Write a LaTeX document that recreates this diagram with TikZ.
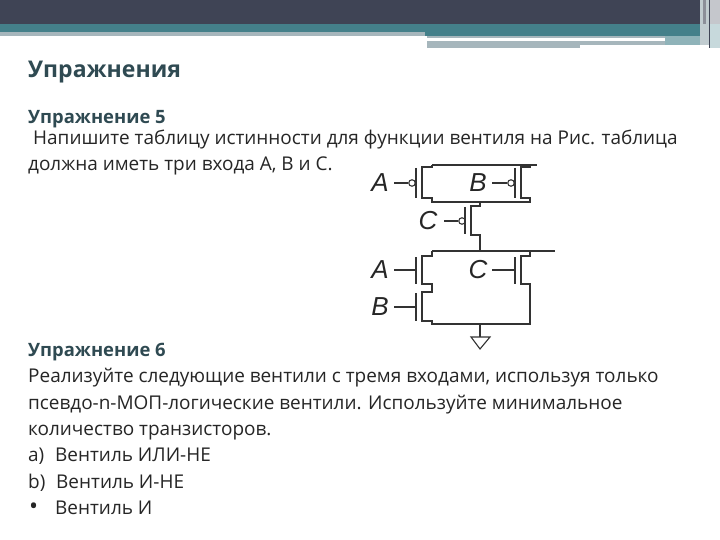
\documentclass[tikz,border=0pt]{standalone}
\usepackage{fontspec}
\setmainfont{Open Sans}
\definecolor{band}{HTML}{3F4455}
\definecolor{teal1}{HTML}{44808A}
\definecolor{grey1}{HTML}{A6B6BC}
\definecolor{head}{HTML}{2F4A52}
\definecolor{body}{HTML}{262626}
\newfontfamily\circfont{Liberation Sans}
\tikzset{
  txt/.style={anchor=base west,inner sep=0pt,font=\fontsize{18.96}{22}\selectfont,text=body},
  hd/.style={anchor=base west,inner sep=0pt,font=\fontsize{18.4}{22}\selectfont\bfseries,text=head},
  title/.style={anchor=base west,inner sep=0pt,font=\fontsize{23}{26}\selectfont\bfseries,text=head},
  lbl/.style={inner sep=0pt,font=\circfont\itshape\fontsize{26}{28}\selectfont,text=black!85},
  wire/.style={draw=black!80,line width=1.1pt,line join=miter},
  bubble/.style={circle,draw=black!80,line width=1.1pt,fill=white,minimum size=6.5pt,inner sep=0pt}
}
\begin{document}
\begin{tikzpicture}[x=1pt,y=-1pt]
\useasboundingbox (0,0) rectangle (720,540);
\fill[white] (0,0) rectangle (720,540);
% header bands
\fill[band] (0,0) rectangle (720,24);
\fill[teal1] (0,24) rectangle (720,32);
\fill[grey1] (0,32) rectangle (425,36);
\fill[teal1] (425,32) rectangle (720,36);
\fill[grey1] (427,36) rectangle (665,38.5);
\fill[grey1] (427,41.5) rectangle (665,45);
\fill[grey1] (427,45) rectangle (580,48.5);
\fill[teal1!60] (665,36) rectangle (705,45);
\fill[grey1!70] (700,0) rectangle (710,45);
\fill[band!60] (703,0) rectangle (706,24);
\fill[band] (709,0) rectangle (710,48);
\fill[band!30] (710,0) rectangle (720,24);
\fill[teal1!30] (710,24) rectangle (720,48);
% text
\node[title] (t0) at (28,78) {Упражнения};
\node[hd] (t1) at (28,124) {Упражнение 5};
\node[txt] (t2) at (33,145) {Напишите таблицу истинности для функции вентиля на Рис. таблица};
\node[txt] (t3) at (28,171) {должна иметь три входа A, B и C.};
\node[hd] (t4) at (28,356) {Упражнение 6};
\node[txt] (t5) at (28,382) {Реализуйте следующие вентили с тремя входами, используя только};
\node[txt] (t6) at (28,409) {псевдо-n-МОП-логические вентили. Используйте минимальное};
\node[txt] (t7) at (28,435) {количество транзисторов.};
\node[txt] (t8) at (28,461) {\makebox[27pt][l]{a)}Вентиль ИЛИ-НЕ};
\node[txt] (t9) at (28,488) {\makebox[28pt][l]{b)}Вентиль И-НЕ};
\node[txt] (t10) at (28,514) {\makebox[27pt][l]{\hspace{1pt}\fontsize{24}{24}\selectfont•}Вентиль И};
% labels
\node[lbl] (la) at (380,183) {A};
\node[lbl] (lb) at (478,183) {B};
\node[lbl] (lc) at (428,221) {C};
\node[lbl] (la2) at (380,270) {A};
\node[lbl] (lc2) at (478,270) {C};
\node[lbl] (lb2) at (380,307) {B};
% bubbles
\node[bubble] (ba) at (412,183) {};
\node[bubble] (bb) at (511,183) {};
\node[bubble] (bc) at (462,221) {};
% named points
\coordinate (ia) at (394,183); \coordinate (ib) at (492,183); \coordinate (ic) at (444,221);
\coordinate (ga) at (416,183); \coordinate (gb) at (515,183); \coordinate (gc) at (465,221);
\coordinate (ina) at (394,270); \coordinate (inb) at (394,307); \coordinate (inc) at (492,270);
\coordinate (gna) at (416,270); \coordinate (gnb) at (416,307); \coordinate (gnc) at (515,270);
% inputs
\draw[wire] (ia) -- (ba.west) (ib) -- (bb.west) (ic) -- (bc.west);
\draw[wire] (ina) -- (gna) (inb) -- (gnb) (inc) -- (gnc);
% gate bars
\draw[wire] (416,168) -- (416,198) (515,168) -- (515,198) (465,207) -- (465,234);
\draw[wire] (ba.east) -- (ga) (bb.east) -- (gb) (bc.east) -- (gc);
\draw[wire] (416,257) -- (416,284) (416,293) -- (416,321) (515,257) -- (515,284);
% PMOS A, B
\draw[wire] (432,165) -- (537,165);
\draw[wire] (432,165) -- (432,167) -- (422,167) -- (422,198) -- (432,198) -- (432,202) -- (530,202) -- (530,198) -- (521,198) -- (521,167) -- (530,167) -- (530,165);
% PMOS C
\draw[wire] (480,202) -- (480,206) -- (471,206) -- (471,235) -- (480,235) -- (480,251);
% NMOS
\draw[wire] (432,251) -- (555,251);
\draw[wire] (432,251) -- (432,256) -- (422,256) -- (422,284) -- (432,284) -- (432,292) -- (422,292) -- (422,321) -- (432,321) -- (432,324) -- (530,324) -- (530,284) -- (521,284) -- (521,256) -- (530,256) -- (530,251);
% ground
\draw[wire] (480,324) -- (480,337);
\draw[wire] (471,337) -- (490,337) -- (480,349) -- cycle;
\end{tikzpicture}
\end{document}
